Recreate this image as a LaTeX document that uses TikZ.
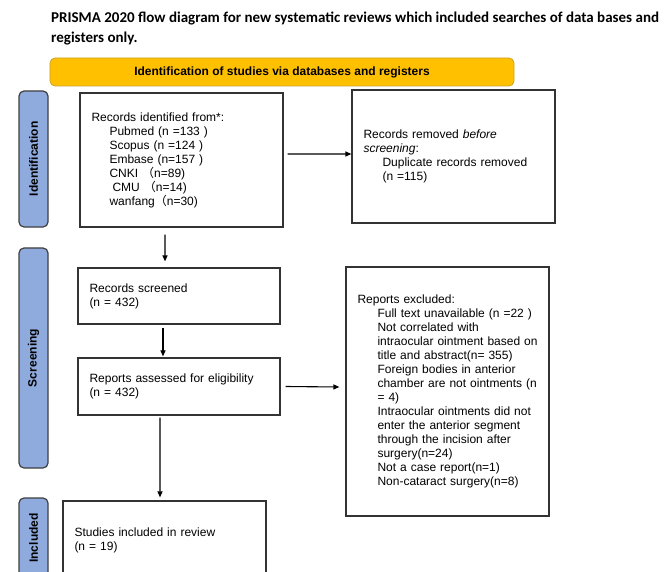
\documentclass[tikz,border=0pt]{standalone}
\usepackage{fontspec}
\setmainfont{Liberation Sans}
\newfontfamily\titlefont{Carlito}
\newfontfamily\cjk{Noto Sans CJK SC}
\usetikzlibrary{arrows.meta}
\definecolor{sideblue}{HTML}{8FAADC}
\definecolor{gold}{HTML}{FFC000}
\definecolor{goldedge}{HTML}{C9A227}
\begin{document}
\begin{tikzpicture}[x=1bp,y=-1bp,
  box/.style={draw=black!80, line width=1.2bp, fill=white, align=left,
    inner xsep=11.5bp, inner ysep=0bp, font=\fontsize{12bp}{14bp}\selectfont},
  side/.style={draw=black!75, fill=sideblue, rounded corners=5bp, line width=1.2bp,
    rotate=90, minimum height=29bp, inner sep=0bp,
    font=\bfseries\fontsize{12bp}{14bp}\selectfont},
  titletext/.style={anchor=base west, inner sep=0bp,
    font=\titlefont\bfseries\fontsize{15bp}{20bp}\selectfont},
  arr/.style={-{Triangle[length=6bp,width=5bp]}, line width=1.1bp, black}]
\useasboundingbox (0,0) rectangle (665,572);
\clip (0,0) rectangle (665,572);
\fill[white] (0,0) rectangle (665,572);

% title
\node[titletext] (t1) at (51,23) {PRISMA 2020 flow diagram for new systematic reviews which included searches of data bases and};
\node[titletext] (t2) at (51,42.5) {registers only.};

% banner
\node[draw=goldedge, fill=gold, rounded corners=5bp, line width=0.8bp,
  minimum width=464bp, minimum height=28bp, inner sep=0bp,
  font=\bfseries\fontsize{12bp}{14bp}\selectfont] (banner) at (282,72)
  {Identification of studies via databases and registers};

% side labels
\node[side, minimum width=136bp] (sid) at (33.5,159) {Identification};
\node[side, minimum width=220bp] (ssc) at (33.5,358) {Screening};
\node[side, minimum width=80bp] (sin) at (33.5,538) {Included};

% boxes
\node[box, text width=180bp, minimum height=134bp] (b1) at (181.5,160)
 {Records identified from*:\\
  \hspace*{18bp}Pubmed (n =133 )\\
  \hspace*{18bp}Scopus (n =124 )\\
  \hspace*{18bp}Embase (n=157 )\\
  \hspace*{18bp}CNKI {\cjk （}n=89)\\
  \hspace*{21bp}CMU {\cjk （}n=14)\\
  \hspace*{18bp}wanfang{\cjk （}n=30)};

\node[box, text width=180bp, minimum height=133bp] (b2) at (453.5,156.5)
 {Records removed \textit{before}\\
  \textit{screening}:\\
  \hspace*{19bp}Duplicate records removed\\
  \hspace*{19bp}(n =115)};

\node[box, text width=179bp, minimum height=56bp] (scr) at (179,296)
 {Records screened\\(n = 432)};

\node[box, text width=179bp, minimum height=57bp] (ass) at (179,386.5)
 {Reports assessed for eligibility\\(n = 432)};

\node[box, text width=180bp, minimum height=249bp] (exc) at (447.5,391.5)
 {Reports excluded:\\
  \hspace*{20bp}\mbox{Full text unavailable (n =22 )}\\
  \hspace*{20bp}\mbox{Not correlated with}\\
  \hspace*{20bp}\mbox{intraocular ointment based on}\\
  \hspace*{20bp}\mbox{title and abstract(n= 355)}\\
  \hspace*{20bp}\mbox{Foreign bodies in anterior}\\
  \hspace*{20bp}\mbox{chamber are not ointments (n}\\
  \hspace*{20bp}\mbox{= 4)}\\
  \hspace*{20bp}\mbox{Intraocular ointments did not}\\
  \hspace*{20bp}\mbox{enter the anterior segment}\\
  \hspace*{20bp}\mbox{through the incision after}\\
  \hspace*{20bp}\mbox{surgery(n=24)}\\
  \hspace*{20bp}\mbox{Not a case report(n=1)}\\
  \hspace*{20bp}\mbox{Non-cataract surgery(n=8)}};

\node[box, text width=180bp, minimum height=78bp] (stu) at (164.5,540)
 {Studies included in review\\(n = 19)};

% arrows
\draw[arr] ([xshift=4bp,yshift=6bp]b1.east) -- ([yshift=2.5bp]b2.west);
\draw[arr] ([xshift=-16.5bp,yshift=-7bp]b1.south) -- ([xshift=-14bp,yshift=6bp]scr.north);
\draw[arr] ([xshift=-16bp,yshift=-3bp]scr.south) -- ([xshift=-16bp,yshift=1bp]ass.north);
\draw[arr] ([xshift=5bp]ass.east) -- ([xshift=-6bp,yshift=4.5bp]exc.west);
\draw[arr] ([xshift=-19bp,yshift=-2bp]ass.south) -- ([xshift=-4.5bp,yshift=3bp]stu.north);
\end{tikzpicture}
\end{document}
